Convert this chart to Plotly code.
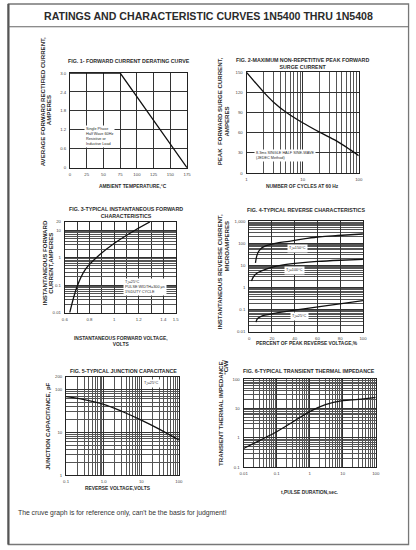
import plotly.graph_objects as go

W, H = 416, 550
FONT = "Liberation Sans, Arial, sans-serif"
INK = "#2b2b2b"

# fig 1 - forward current derating
temp_c = [0, 75, 175]
avg_current = [3.0, 3.0, 0.0]

# fig 2 - peak forward surge current
cycles = [1, 2, 3, 5, 10, 20, 40, 70, 100]
surge_a = [150, 121, 106, 91, 75, 61, 48, 35, 26]

# fig 3 - instantaneous forward characteristics
vf = [0.64, 0.70, 0.77, 0.88, 1.0, 1.17, 1.29]
if_a = [0.01, 0.09, 0.39, 1.25, 3.3, 10, 20]

# fig 4 - reverse characteristics
pct_150 = [5.5, 6.5, 8, 10, 13, 19, 25, 35, 48, 62, 78, 100]
ir_150 = [13, 25, 40, 55, 70, 88, 103, 122, 155, 195, 222, 260]
pct_100 = [2, 4, 7, 12, 19, 30, 45, 60, 80, 100]
ir_100 = [2, 3.2, 4.5, 6, 8, 10.5, 13, 15, 17, 18.6]
pct_25 = [6, 7, 9, 12, 19, 30, 48, 62, 78, 100]
ir_25 = [0.028, 0.038, 0.046, 0.055, 0.064, 0.08, 0.11, 0.14, 0.18, 0.26]

# fig 5 - junction capacitance
vr = [0.1, 0.3, 1, 3, 10, 30, 100]
cap_pf = [68, 58, 45, 31, 19.3, 11.9, 6.6]

# fig 6 - transient thermal impedance
pulse_s = [0.01, 0.03, 0.1, 0.3, 1, 3, 10, 30, 100]
zth = [0.43, 0.8, 1.6, 3.4, 7.8, 13.5, 18.5, 20.5, 24]

# tick labels
t1_x = [0, 25, 50, 75, 100, 125, 150, 175]
t1_y = [0, 0.6, 1.2, 1.8, 2.4, 3.0]
t1_ytxt = ["0", "0.6", "1.2", "1.8", "2.4", "3.0"]
t2_x = [1, 10, 100]
t2_y = [0, 30, 60, 90, 120, 150]
t3_x = [0.6, 0.8, 1.0, 1.2, 1.4, 1.5]
t3_y = [0.01, 0.1, 1, 10, 20]
t3_ytxt = ["0.01", "0.1", "1", "10", "20"]
t4_x = [0, 20, 40, 60, 80, 100]
t4_y = [0.01, 0.1, 1, 10, 100, 1000]
t4_ytxt = ["0.01", "0.1", "1", "10", "100", "1,000"]
t5_x = [0.1, 1, 10, 100]
t5_xtxt = ["0.1", "1.0", "10", "100"]
t5_y = [1, 10, 100, 200]
t5_ytxt = ["1", "10", "100", "200"]
t6_x = [0.01, 0.1, 1, 10, 100]
t6_xtxt = ["0.01", "0.1", "1", "10", "100"]
t6_y = [0.1, 1, 10, 100]
t6_ytxt = ["0.1", "1", "10", "100"]


def px(x):
    return x / W


def py(y):
    return 1 - y / H


def dom_x(a, b):
    return [a / W, b / W]


def dom_y(top, bottom):
    return [1 - bottom / H, 1 - top / H]


line = dict(color="#111", width=1.3)
fig = go.Figure()
fig.add_trace(go.Scatter(x=temp_c, y=avg_current, mode="lines", line=line, xaxis="x", yaxis="y"))
fig.add_trace(go.Scatter(x=cycles, y=surge_a, mode="lines", line=dict(line, shape="spline"), xaxis="x2", yaxis="y2"))
fig.add_trace(go.Scatter(x=vf, y=if_a, mode="lines", line=dict(line, shape="spline"), xaxis="x3", yaxis="y3"))
for xs, ys in [(pct_150, ir_150), (pct_100, ir_100), (pct_25, ir_25)]:
    fig.add_trace(go.Scatter(x=xs, y=ys, mode="lines", line=dict(line, shape="spline"), xaxis="x4", yaxis="y4"))
fig.add_trace(go.Scatter(x=vr, y=cap_pf, mode="lines", line=dict(line, shape="spline"), xaxis="x5", yaxis="y5"))
fig.add_trace(go.Scatter(x=pulse_s, y=zth, mode="lines", line=dict(line, shape="spline"), xaxis="x6", yaxis="y6"))

ax = dict(showline=True, mirror=True, linecolor="#222", linewidth=1, showgrid=True,
          gridcolor="#333", gridwidth=0.8, zeroline=False, ticks="", ticklabelstandoff=2,
          tickfont=dict(family=FONT, size=4.3, color="#444"), fixedrange=True)
minor_log = dict(showgrid=True, dtick="D1", gridcolor="#555", gridwidth=0.6)

fig.update_layout(
    width=W, height=H, margin=dict(l=0, r=0, t=0, b=0),
    paper_bgcolor="white", plot_bgcolor="white", showlegend=False,
    font=dict(family=FONT, color=INK),
    xaxis=dict(ax, domain=dom_x(67.3, 186.7), range=[0, 175], tickvals=t1_x, anchor="y"),
    yaxis=dict(ax, domain=dom_y(71.7, 167.3), range=[0, 3.0], tickvals=t1_y, ticktext=t1_ytxt, anchor="x"),
    xaxis2=dict(ax, type="log", domain=dom_x(247.3, 361.7), range=[0, 2], tickvals=t2_x,
                minor=minor_log, anchor="y2"),
    yaxis2=dict(ax, domain=dom_y(71, 172.7), range=[0, 150], tickvals=t2_y, anchor="x2"),
    xaxis3=dict(ax, domain=dom_x(62, 175), range=[0.6, 1.5], tickvals=t3_x, anchor="y3",
                minor=dict(showgrid=True, tick0=0.6, dtick=0.1, gridcolor="#333", gridwidth=0.8)),
    yaxis3=dict(ax, type="log", domain=dom_y(222, 313.5), range=[-2, 1.301], tickvals=t3_y,
                ticktext=t3_ytxt, minor=minor_log, anchor="x3"),
    xaxis4=dict(ax, domain=dom_x(250, 366), range=[0, 100], tickvals=t4_x, anchor="y4"),
    yaxis4=dict(ax, type="log", domain=dom_y(221, 333), range=[-2, 3], tickvals=t4_y,
                ticktext=t4_ytxt, minor=minor_log, anchor="x4"),
    xaxis5=dict(ax, type="log", domain=dom_x(63.3, 178.3), range=[-1, 2], tickvals=t5_x,
                ticktext=t5_xtxt, minor=minor_log, anchor="y5"),
    yaxis5=dict(ax, type="log", domain=dom_y(378, 477.5), range=[0, 2.301], tickvals=t5_y,
                ticktext=t5_ytxt, minor=minor_log, anchor="x5"),
    xaxis6=dict(ax, type="log", domain=dom_x(244.3, 379), range=[-2, 2], tickvals=t6_x,
                ticktext=t6_xtxt, minor=minor_log, anchor="y6"),
    yaxis6=dict(ax, type="log", domain=dom_y(380.7, 469.3), range=[-1, 2], tickvals=t6_y,
                ticktext=t6_ytxt, minor=minor_log, anchor="x6"),
)

# frame and title separator
fig.add_shape(type="rect", xref="paper", yref="paper", x0=px(4.5), x1=px(412.5), y0=py(547.5), y1=py(2),
              line=dict(color="#777", width=1.3))
fig.add_shape(type="line", xref="paper", yref="paper", x0=px(4.5), x1=px(4.5), y0=py(547.5), y1=py(2),
              line=dict(color="#555", width=2.2))
fig.add_shape(type="line", xref="paper", yref="paper", x0=px(4.5), x1=px(412.5), y0=py(25), y1=py(25),
              line=dict(color="#666", width=1.2))


def note(x, y, text, size, angle=0, bold=True, align="center", color=INK, xanchor="center"):
    fig.add_annotation(x=px(x), y=py(y), xref="paper", yref="paper", text=f"<b>{text}</b>" if bold else text,
                       showarrow=False, textangle=angle, align=align, xanchor=xanchor, yanchor="middle",
                       font=dict(family=FONT, size=size, color=color))


note(208, 14, "RATINGS AND CHARACTERISTIC CURVES 1N5400 THRU 1N5408", 10.6)

# subplot titles
note(127.5, 59.5, "FIG. 1- FORWARD CURRENT DERATING CURVE", 5.3)
note(304, 62, "FIG. 2-MAXIMUM NON-REPETITIVE PEAK FORWARD<br>SURGE CURRENT", 5.3)
note(124, 212, "FIG. 3-TYPICAL INSTANTANEOUS FORWARD<br>CHARACTERISTICS", 5.3)
note(308, 210, "FIG. 4-TYPICAL REVERSE CHARACTERISTICS", 5.3)
note(122, 372.5, "FIG. 5-TYPICAL JUNCTION CAPACITANCE", 5.3)
note(311, 372.5, "FIG. 6-TYPICAL TRANSIENT THERMAL IMPEDANCE", 5.3)

# x axis titles
note(131.5, 186, "AMBIENT TEMPERATURE,°C", 4.9)
note(304, 186.5, "NUMBER OF CYCLES AT 60 Hz", 4.9)
note(119, 343, "INSTANTANEOUS FORWARD VOLTAGE,<br>VOLTS", 4.9)
note(309, 345, "PERCENT OF PEAK REVERSE VOLTAGE,%", 4.9)
note(116, 491, "REVERSE VOLTAGE,VOLTS", 4.9)
note(312.5, 495, "t,PULSE DURATION,sec.", 4.9)

# y axis titles
note(39, 101, "AVERAGE FORWARD RECTIFIED CURRENT,", 6.1, -90)
note(45, 109, "AMPERES", 6.1, -90)
note(220.5, 110, "PEAK  FORWARD SURGE CURRENT,", 6.1, -90)
note(227, 121, "AMPERES", 6.1, -90)
note(41.5, 263, "INSTANTANEOUS FORWARD", 6.1, -90)
note(48, 264, "CURRENT,AMPERES", 6.1, -90)
note(220, 272, "INSTANTANEOUS REVERSE CURRENT,", 6.1, -90)
note(227, 247, "MICROAMPERES", 6.1, -90)
note(43.5, 428, "JUNCTION CAPACITANCE, pF", 6.1, -90)
note(220, 415, "TRANSIENT THERMAL IMPEDANCE,", 6.1, -90)
note(226.5, 369, "°C/W", 6.1, -90)


def box(xref, yref, x, y, text, xanchor="center"):
    # x / y are in axis units (log10 of the value on log axes)
    fig.add_annotation(x=x, y=y, xref=xref, yref=yref, text=text, showarrow=False, align="left",
                       xanchor=xanchor, yanchor="middle", bgcolor="white", borderpad=1,
                       font=dict(family=FONT, size=3.8, color=INK))


box("x", "y", 21, 1.0, "Single Phase<br>Half Wave 60Hz<br>Resistive or<br>Inductive Load", "left")
box("x2", "y2", 0.14, 26, "8.3ms SINGLE HALF SINE-WAVE<br>(JEDEC Method)", "left")
box("x3", "y3", 1.07, -1.05, "T<sub>J</sub>=25°C<br>PULSE WIDTH=300 μs<br>1%DUTY CYCLE", "left")
box("x4", "y4", 42.5, 1.75, "T<sub>J</sub>=150°C")
box("x4", "y4", 40, 0.75, "T<sub>J</sub>=100°C")
box("x4", "y4", 44, -1.31, "T<sub>J</sub>=25°C")
box("x5", "y5", 1.27, 2.13, "T<sub>J</sub>=25°C")

note(12, 515.5, "The cruve graph is for reference only, can't be the basis for judgment!", 6.8,
     bold=False, align="left", color="#333", xanchor="left")

fig.write_html("out.html", config={"displayModeBar": False},
               post_script="document.body.style.margin='0';")
